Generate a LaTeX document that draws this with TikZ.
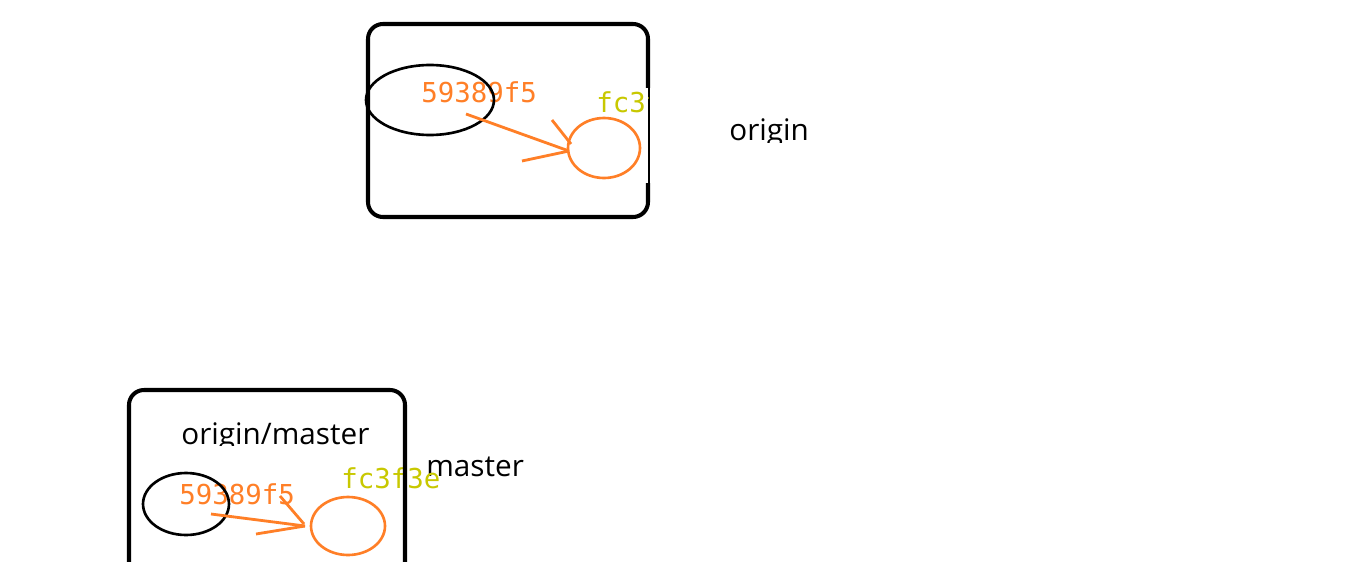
\documentclass[tikz,border=0pt]{standalone}
\usepackage{fontspec}
\setmainfont{Open Sans}
\newfontfamily\hashfont{DejaVu Sans Mono}
\usetikzlibrary{shapes.geometric}
\definecolor{commitorange}{RGB}{255,127,39}
\definecolor{hasholive}{RGB}{200,200,0}
\tikzset{
  repobox/.style={draw=black, line width=2.3pt, rounded corners=0.3cm},
  ring/.style={draw, ellipse, inner sep=0pt, line width=1.5pt},
  stroke/.style={commitorange, line width=1.6pt},
  hashlabel/.style={anchor=base west, inner sep=0pt, font=\hashfont\fontsize{15.6pt}{18pt}\selectfont},
  reflabel/.style={anchor=base west, inner sep=0pt, font=\fontsize{16.9pt}{19pt}\selectfont}
}

\begin{document}
\begin{tikzpicture}[x=0.02cm, y=-0.02cm]
\clip (0,0) rectangle (1358,561);
\fill [white] (0,0) rectangle (1358,561);
% origin repository
\draw [repobox] (368,24) rectangle (648,217);
\fill [white] (645,88) rectangle (653,183);
\draw [black, line width=0.9pt] (649,88) -- (649,183);
\node [hashlabel, commitorange] (h1top) at (421,102) {59389f5};
\node [ring, black, minimum width=2.56cm, minimum height=1.4cm] (c1top) at (430,100) {};
\begin{scope}
\clip (560,60) rectangle (648,130);
\node [hashlabel, hasholive] (h2top) at (596,112) {fc3f3e};
\end{scope}
\node [ring, commitorange, minimum width=1.44cm, minimum height=1.2cm] (c2top) at (604,148) {};
\coordinate (a1top) at (466,114);
\coordinate (a2top) at (569,151);
\coordinate (t1top) at (552,120);
\coordinate (t2top) at (571,144);
\coordinate (t3top) at (522,161);
\draw [stroke] (a1top) -- (a2top);
\draw [stroke] (t1top) -- (t2top);
\draw [stroke] (t3top) -- (a2top);
\begin{scope}
\clip (700,100) rectangle (850,142);
\node [reflabel] (origin) at (729,140) {origin};
\end{scope}
% local repository
\begin{scope}
\clip (150,400) rectangle (400,445);
\node [reflabel] (tracking) at (181,444) {origin/master};
\end{scope}
\node [reflabel] (master) at (426,476) {master};
\node [hashlabel, commitorange] (h1bot) at (179,504) {59389f5};
\node [ring, black, minimum width=1.72cm, minimum height=1.24cm] (c1bot) at (186,504) {};
\node [hashlabel, hasholive] (h2bot) at (341,488) {fc3f3e};
\draw [repobox] (129,390) rectangle (405,620);
\node [ring, commitorange, minimum width=1.48cm, minimum height=1.16cm] (c2bot) at (348,526) {};
\coordinate (a1bot) at (211,514);
\coordinate (a2bot) at (305,526);
\coordinate (t1bot) at (280,496);
\coordinate (t2bot) at (304,524);
\coordinate (t3bot) at (256,534);
\draw [stroke] (a1bot) -- (a2bot);
\draw [stroke] (t1bot) -- (t2bot);
\draw [stroke] (t3bot) -- (a2bot);
\end{tikzpicture}
\end{document}
